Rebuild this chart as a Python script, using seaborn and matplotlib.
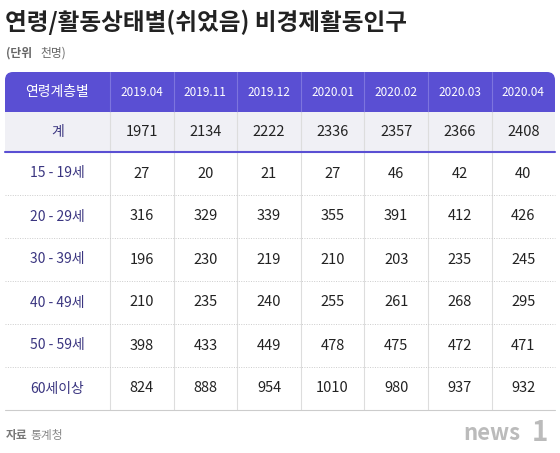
import matplotlib
matplotlib.use("Agg")
import matplotlib.pyplot as plt
import seaborn as sns
from matplotlib.patches import FancyBboxPatch, Rectangle

sns.set_theme(style="white")
plt.rcParams['font.family'] = ['Noto Sans CJK KR', 'DejaVu Sans']

periods = ["2019.04", "2019.11", "2019.12", "2020.01", "2020.02", "2020.03", "2020.04"]
groups = ["15 - 19세", "20 - 29세", "30 - 39세", "40 - 49세", "50 - 59세", "60세이상"]
total = [1971, 2134, 2222, 2336, 2357, 2366, 2408]
v15 = [27, 20, 21, 27, 46, 42, 40]
v20 = [316, 329, 339, 355, 391, 412, 426]
v30 = [196, 230, 219, 210, 203, 235, 245]
v40 = [210, 235, 240, 255, 261, 268, 295]
v50 = [398, 433, 449, 478, 475, 472, 471]
v60 = [824, 888, 954, 1010, 980, 937, 932]
rows = [v15, v20, v30, v40, v50, v60]

fig = plt.figure(figsize=(5.6, 4.53), dpi=100)
ax = fig.add_axes([0, 0, 1, 1])
ax.set_xlim(0, 560); ax.set_ylim(453, 0); ax.axis('off')

purple = "#5a4fd3"
x0, x1 = 5, 555
colx = [5, 110] + [110 + 63.6 * (i + 1) for i in range(7)]
ax.text(5, 22, "연령/활동상태별(쉬었음) 비경제활동인구", fontsize=17, fontweight='bold', color="#222222", va='center')
ax.text(6, 53, "(단위", fontsize=8.5, fontweight='bold', color="#666666", va='center')
ax.text(40, 53, "천명)", fontsize=8.5, color="#666666", va='center')

ax.add_patch(FancyBboxPatch((x0, 72), x1 - x0, 40, boxstyle="round,pad=0,rounding_size=8", fc=purple, ec='none'))
ax.add_patch(Rectangle((x0, 95), x1 - x0, 17, fc=purple, ec='none'))
ax.add_patch(Rectangle((x0, 112), x1 - x0, 40, fc="#f0f0f5", ec='none'))
for cx in colx[1:-1]:
    ax.plot([cx, cx], [72, 112], color="#7d74de", lw=0.8)
    ax.plot([cx, cx], [112, 410], color="#dddddd", lw=0.8)
ax.plot([x0, x1], [152, 152], color=purple, lw=1.5)
ax.plot([x0, x1], [410, 410], color="#cccccc", lw=0.8)
for i in range(1, 6):
    y = 152 + 43 * i
    ax.plot([x0, x1], [y, y], color="#cccccc", lw=0.7, ls=(0, (1, 1.5)))

cen = [(colx[i] + colx[i + 1]) / 2 for i in range(8)]
ax.text(cen[0], 92, "연령계층별", color='white', fontsize=10, ha='center', va='center')
for i, p in enumerate(periods):
    ax.text(cen[i + 1], 92, p, color='white', fontsize=8.5, ha='center', va='center')
ax.text(cen[0], 132, "계", color="#3a3580", fontsize=10, ha='center', va='center')
for i, v in enumerate(total):
    ax.text(cen[i + 1], 132, str(v), color="#222222", fontsize=10.5, ha='center', va='center')
for r, (g, vals) in enumerate(zip(groups, rows)):
    y = 173.5 + 43 * r
    ax.text(cen[0], y, g, color="#3a3580", fontsize=10, ha='center', va='center')
    for i, v in enumerate(vals):
        ax.text(cen[i + 1], y, str(v), color="#222222", fontsize=10.5, ha='center', va='center')

ax.text(6, 436, "자료", fontsize=8.5, fontweight='bold', color="#777777", va='center')
ax.text(30, 436, "통계청", fontsize=8.5, color="#888888", va='center')
ax.text(520, 434, "news", fontsize=16, fontweight='bold', style='italic', color="#bbbbbb", ha='right', va='center')
ax.text(540, 433, "1", fontsize=20, fontweight='bold', style='italic', color="#bbbbbb", ha='center', va='center')

fig.savefig("out.png", dpi=100)
